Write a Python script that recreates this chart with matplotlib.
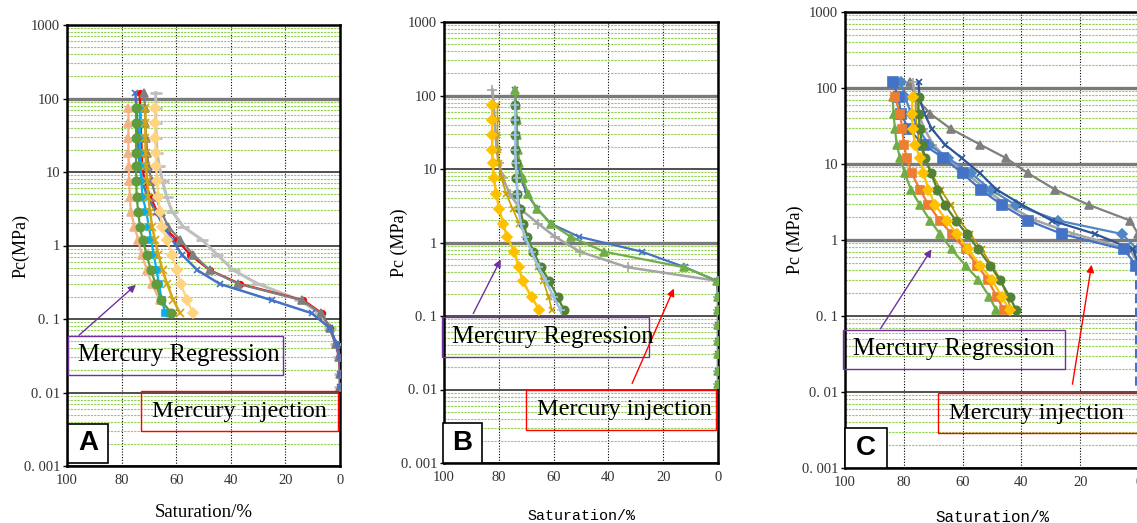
import matplotlib
matplotlib.use("Agg")
import matplotlib.pyplot as plt
import matplotlib.ticker as mticker
from matplotlib.patches import Rectangle, FancyArrowPatch
import numpy as np

W, H = 1137, 523

# pressure steps (MPa)
P_INJ = [120, 75, 46, 29, 18, 12, 7.5, 4.6, 2.9, 1.8, 1.2, 0.75, 0.46, 0.3,
         0.18, 0.12, 0.075, 0.045, 0.03, 0.018, 0.012]
P_RET = P_INJ[1:16]
P_INJ_C = P_INJ[:13]
P_TAIL_C = P_INJ[12:]

# ---- panel A ----
a_inj_blue = [75, 74.5, 74.3, 74, 73.8, 73.3, 72.5, 70.5, 67.5, 64.5, 61.5, 57.9, 52.2, 44, 25, 10.4, 3.7, 1.2, 0, 0, 0]
a_inj_red = [73.4, 73.2, 73, 72.8, 72.6, 72.5, 71.5, 69.5, 67, 64.7, 59.8, 54.9, 47.6, 36.6, 13.4, 6.7, 3.7, 1.5, 0.3, 0, 0]
a_inj_gray = [71.7, 71.5, 71.3, 71, 70.6, 70.2, 69, 67.5, 65.5, 62.9, 58.6, 53.7, 47.6, 37.2, 14, 7, 3.5, 1.3, 0.2, 0, 0]
a_inj_lgray = [67.5, 67.5, 67.5, 67.3, 67, 66.2, 65, 63.5, 61.5, 57.4, 50.6, 45, 39, 30, 14.6, 7.5, 3.8, 1.5, 0.3, 0, 0]
a_ret_salmon = [77.5, 77.5, 77.5, 77.5, 77.4, 77.2, 77, 76.6, 75.3, 73.9, 72.7, 70.6, 69, 66, 62.3]
a_ret_green = [74.7, 74.7, 74.7, 74.7, 74.7, 74.6, 74.5, 73.9, 73.3, 72.3, 70.8, 69.3, 67.5, 65.5, 61.8]
a_ret_cyan = [73.3, 73.3, 73.3, 73.2, 73, 72.8, 72.3, 71, 70, 69.2, 68.2, 67.2, 66.3, 65.3, 64]
a_ret_gold = [71.3, 71.3, 71.3, 71.2, 71, 70.6, 70.2, 69.6, 68.8, 67.8, 66.5, 65, 63.3, 61, 58.6]
a_ret_peach = [67.6, 67.6, 67.6, 67.5, 67.3, 67, 66.6, 66, 65.2, 63.5, 61.6, 59.8, 58.3, 56, 53.9]

# ---- panel B ----
b_inj_gray = [82.3, 81.8, 81.5, 81.2, 80.8, 80, 78.5, 76, 72.3, 65.6, 59.5, 50.4, 33, 0, 0, 0, 0, 0, 0, 0, 0]
b_inj_blue = [74, 73.8, 73.5, 73.3, 73.2, 73, 72, 69.8, 66, 61, 50.8, 27.8, 12, 0.4, 0, 0, 0, 0, 0, 0, 0]
b_inj_green = [74, 73.8, 73.5, 73.3, 73, 72.5, 71.3, 69.3, 66.2, 61, 53.8, 41.6, 12.3, 0.3, 0, 0, 0, 0, 0, 0, 0]
b_ret_yellow = [82.4, 82.4, 82.4, 82.4, 82.2, 81.8, 80.9, 79.9, 78.4, 77, 74.3, 72.7, 71.3, 68, 65.2]
b_ret_gold = [80.5, 80.5, 80.5, 80.3, 80, 79, 77.3, 75, 72.5, 70, 68, 65.8, 63.8, 61.8, 60.6]
b_ret_lblue = [74, 74, 74, 74, 73.8, 73.5, 73.2, 72.8, 72, 70.5, 68, 65.5, 62.8, 60, 57.4]
b_ret_dgreen = [74, 74, 74, 74, 73.8, 73.6, 73.2, 72.3, 71, 69.6, 67.4, 64.6, 61.6, 58.5, 56.2]

# ---- panel C ----
c_inj_square = [83.8, 81.8, 81, 78.4, 73.3, 66.5, 60, 53.8, 46.7, 37.6, 26.2, 5, 1]
c_inj_dblue = [75, 74.7, 73, 70.5, 66, 60.3, 54, 48.4, 39.8, 29.6, 14.9, 2, 0]
c_inj_steel = [81, 79.5, 77.5, 75, 71.5, 65, 57, 50.5, 42, 27.4, 5.8, 0.5, 0]
c_inj_gray = [78, 76, 71, 64, 54, 45.3, 37.6, 28.5, 17.1, 3, 0.3, 0, 0]
c_inj_lgray = [77, 76, 75, 73, 70, 65.5, 58.5, 52, 45, 35, 22, 3, 0]
c_tail = [1] * len(P_TAIL_C)
c_ret_green = [83.8, 83.5, 83, 82.4, 81.3, 79.6, 77.6, 74.5, 71, 67.7, 63.7, 59, 54.6, 50.9, 48.6]
c_ret_orange = [83, 81.3, 80.5, 80, 79, 77.3, 74.5, 71.6, 67.7, 63.7, 59, 55, 51.4, 48.4, 46]
c_ret_yellow = [77, 77.3, 77, 76.2, 74.5, 73.3, 71.6, 69.4, 65.4, 62, 58, 54, 50, 46.7, 44]
c_ret_dgreen = [75, 75, 74.5, 73.8, 72.8, 70.7, 68.6, 66, 62.3, 58.6, 54.6, 50.6, 47.4, 44, 41.8]
c_ret_gold = [76, 76, 75.5, 74.5, 73, 70.5, 67.5, 64, 61, 57.5, 53.5, 50, 47, 45, 43.5]

YTICKS = [0.001, 0.01, 0.1, 1, 10, 100, 1000]
YLABELS = ["0. 001", "0. 01", "0. 1", "1", "10", "100", "1000"]
XTICKS = [100, 80, 60, 40, 20, 0]


def px_rect(x0, y0, x1, y1):
    return [x0 / W, 1 - y1 / H, (x1 - x0) / W, (y1 - y0) / H]


def style_axes(ax, ylabel, ypad, xfont, xsize, xpad, heavy):
    ax.set_yscale("log")
    ax.set_ylim(0.001, 1000)
    ax.set_xlim(100, 0)
    ax.set_yticks(YTICKS)
    ax.set_yticklabels(YLABELS, family="Liberation Serif", fontsize=10.5, color="#333333")
    ax.set_xticks(XTICKS)
    ax.set_xticklabels([str(v) for v in XTICKS], family="Liberation Serif", fontsize=10.5, color="#333333")
    ax.yaxis.set_minor_locator(mticker.LogLocator(base=10, subs=np.arange(2, 10), numticks=20))
    ax.yaxis.set_minor_formatter(mticker.NullFormatter())
    ax.tick_params(axis="y", which="minor", length=0)
    ax.tick_params(axis="y", which="major", length=3, width=1, pad=2)
    ax.tick_params(axis="x", length=0, pad=6)
    ax.yaxis.grid(True, which="minor", color="#92D050", lw=0.8, ls=(0, (2, 1)))
    ax.yaxis.grid(True, which="major", color="#505050", lw=1.4)
    ax.xaxis.grid(True, which="major", color="black", lw=0.8, ls=(0, (1, 1.5)))
    # some decade lines are drawn heavier and grey in the original
    for tick, gl in zip(YTICKS, ax.get_ygridlines()):
        if tick in heavy:
            gl.set_color("#7a7a7a")
            gl.set_linewidth(2.4)
    ax.set_axisbelow(True)
    for sp in ax.spines.values():
        sp.set_linewidth(1.8)
        sp.set_color("black")
    ax.set_ylabel(ylabel, family="Liberation Serif", fontsize=13, labelpad=ypad)
    ax.set_xlabel("Saturation/%", family=xfont, fontsize=xsize, labelpad=xpad)


def draw(ax, p, s, color, marker, ms=5, lw=1.6, mew=1.2, ls="-"):
    ax.plot(s, p, color=color, marker=marker, ms=ms, lw=lw, mew=mew, ls=ls, zorder=3)


def label_boxes(fig, reg_box, inj_box, letter_box, letter):
    fig.add_artist(Rectangle(px_rect(*reg_box)[:2], *px_rect(*reg_box)[2:],
                             transform=fig.transFigure, fill=False,
                             edgecolor="#7030A0", lw=1.0, zorder=5))
    fig.text((reg_box[0] + 10) / W, 1 - (reg_box[1] + reg_box[3]) / 2 / H,
             "Mercury Regression", family="Liberation Serif", fontsize=17.8,
             ha="left", va="center", zorder=6)
    fig.add_artist(Rectangle(px_rect(*inj_box)[:2], *px_rect(*inj_box)[2:],
                             transform=fig.transFigure, fill=False,
                             edgecolor="#FF0000", lw=1.0, zorder=5))
    fig.text((inj_box[0] + 11) / W, 1 - (inj_box[1] + inj_box[3]) / 2 / H,
             "Mercury injection", family="Liberation Serif", fontsize=17.5,
             ha="left", va="center", zorder=6)
    fig.add_artist(Rectangle(px_rect(*letter_box)[:2], *px_rect(*letter_box)[2:],
                             transform=fig.transFigure, facecolor="white",
                             edgecolor="black", lw=1.2, zorder=5))
    fig.text((letter_box[0] + letter_box[2]) / 2 / W,
             1 - (letter_box[1] + letter_box[3]) / 2 / H, letter,
             family="Liberation Sans", weight="bold", fontsize=20,
             ha="center", va="center", zorder=6)


def arrow(fig, start, end, color):
    fig.add_artist(FancyArrowPatch(
        (start[0] / W, 1 - start[1] / H), (end[0] / W, 1 - end[1] / H),
        transform=fig.transFigure, arrowstyle="-|>", mutation_scale=11,
        color=color, lw=1.0, zorder=6))


fig = plt.figure(figsize=(W / 100, H / 100), dpi=100)

axA = fig.add_axes(px_rect(67, 25, 340, 466))
axB = fig.add_axes(px_rect(444, 22, 718, 463))
axC = fig.add_axes(px_rect(845, 12, 1139, 468))

style_axes(axA, "Pc(MPa)", -4, "Liberation Serif", 13.5, 12, [100])
style_axes(axB, "Pc (MPa)", -5, "Liberation Mono", 10.8, 18, [100, 1])
style_axes(axC, "Pc (MPa)", -1.5, "Liberation Mono", 11.4, 15, [100, 10, 1])

# panel A
draw(axA, P_INJ, a_inj_lgray, "#BFBFBF", "_", ms=8, lw=2.2, mew=2)
draw(axA, P_INJ, a_inj_red, "#FF0000", "o", ms=4)
draw(axA, P_INJ, a_inj_gray, "#7F7F7F", "^", ms=6)
draw(axA, P_INJ, a_inj_blue, "#4472C4", "x", ms=5, lw=1.8)
draw(axA, P_RET, a_ret_salmon, "#F4B183", "^", ms=6)
draw(axA, P_RET, a_ret_cyan, "#00B0F0", "s", ms=5)
draw(axA, P_RET, a_ret_green, "#5E9C3E", "o", ms=6)
draw(axA, P_RET, a_ret_gold, "#D4A514", "x", ms=6, lw=1.8)
draw(axA, P_RET, a_ret_peach, "#FFD480", "D", ms=5)

# panel B
draw(axB, P_INJ, b_inj_gray, "#A5A5A5", "+", ms=7, lw=1.8)
draw(axB, P_INJ, b_inj_blue, "#4472C4", "x", ms=5)
draw(axB, P_INJ, b_inj_green, "#70AD47", "^", ms=6)
draw(axB, P_RET, b_ret_gold, "#C9A100", "x", ms=5, lw=1.2)
draw(axB, P_RET, b_ret_yellow, "#FFC000", "D", ms=5, lw=1.8)
draw(axB, P_RET, b_ret_dgreen, "#548235", "o", ms=6)
draw(axB, P_RET, b_ret_lblue, "#9DC3E6", "+", ms=6, lw=1.8)

# panel C
draw(axC, P_TAIL_C, c_tail, "#4472C4", None, lw=2.2, ls=(0, (3, 1.5)))
draw(axC, P_INJ_C, c_inj_gray, "#7F7F7F", "^", ms=6)
draw(axC, P_INJ_C, c_inj_lgray, "#A5A5A5", "+", ms=6, lw=1.8)
draw(axC, P_INJ_C, c_inj_steel, "#4F86C6", "D", ms=5)
draw(axC, P_INJ_C, c_inj_dblue, "#2F5597", "x", ms=5)
draw(axC, P_INJ_C, c_inj_square, "#4472C4", "s", ms=7)
draw(axC, P_RET, c_ret_green, "#70AD47", "^", ms=6)
draw(axC, P_RET, c_ret_orange, "#ED7D31", "s", ms=6)
draw(axC, P_RET, c_ret_gold, "#BF9000", "x", ms=4, lw=1.2)
draw(axC, P_RET, c_ret_dgreen, "#548235", "o", ms=6)
draw(axC, P_RET, c_ret_yellow, "#FFC000", "D", ms=5)

label_boxes(fig, (68, 336, 283, 375), (141, 391, 338, 431), (68, 424, 108, 463), "A")
label_boxes(fig, (442, 317, 649, 357), (526, 390, 716, 430), (443, 423, 482, 463), "B")
label_boxes(fig, (843, 330, 1065, 369), (938, 393, 1150, 433), (845, 428, 887, 468), "C")

arrow(fig, (77, 337), (138, 283), "#7030A0")
arrow(fig, (472, 316), (502, 257), "#7030A0")
arrow(fig, (631, 386), (675, 286), "#FF0000")
arrow(fig, (879, 331), (933, 247), "#7030A0")
arrow(fig, (1072, 387), (1092, 262), "#FF0000")

fig.savefig("out.png", dpi=100)
